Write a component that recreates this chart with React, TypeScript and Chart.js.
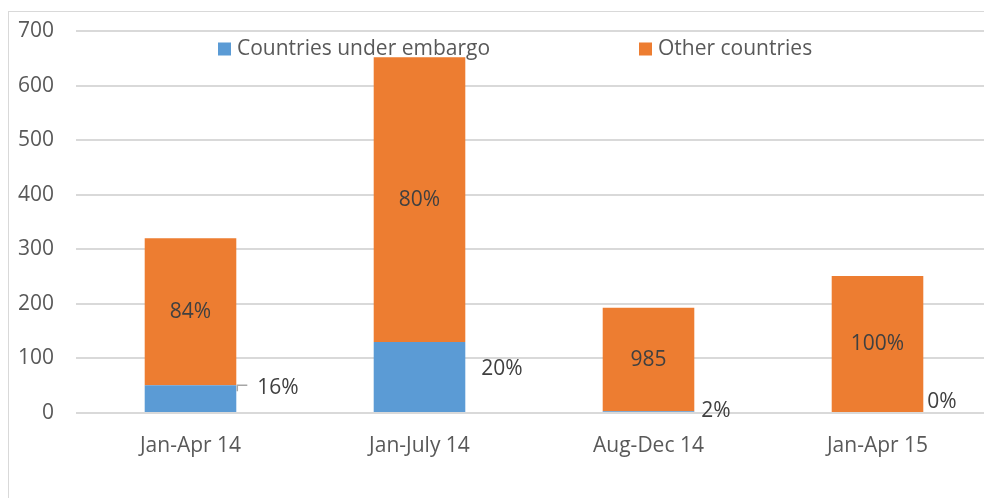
import React, { useEffect, useRef } from "react";
import { Chart, registerables } from "chart.js";

Chart.register(...registerables);

const categories = ["Jan-Apr 14", "Jan-July 14", "Aug-Dec 14", "Jan-Apr 15"];
const embargoValues = [51, 130, 3, 0];
const otherValues = [269, 522, 190, 251];
const embargoLabels = ["16%", "20%", "2%", "0%"];
const otherLabels = ["84%", "80%", "985", "100%"];
const seriesNames = ["Countries under embargo", "Other countries"];
const yTicks = [0, 100, 200, 300, 400, 500, 600, 700];

const BLUE = "#5b9bd5";
const ORANGE = "#ed7d31";
const FONT = "'Open Sans', sans-serif";
const FONT_SIZE = 21;

// label placement for the embargo series (offset from bar right edge in px, y as value)
const embargoLabelPlacement = [
  { dx: 21, yVal: 46 },
  { dx: 16, yVal: 81 },
  { dx: 7, yVal: 4 },
  { dx: 4, yVal: 20 },
];

const labelPlugin = {
  id: "customLabels",
  afterDatasetsDraw(chart: any) {
    const ctx = chart.ctx;
    const yScale = chart.scales.y;
    const area = chart.chartArea;
    ctx.save();
    ctx.font = `${FONT_SIZE}px ${FONT}`;
    ctx.fillStyle = "#404040";
    const metaO = chart.getDatasetMeta(1);
    metaO.data.forEach((el: any, i: number) => {
      const p = el.getProps(["x", "y", "base"], true);
      ctx.textAlign = "center";
      ctx.textBaseline = "middle";
      ctx.fillText(otherLabels[i], p.x, (p.y + p.base) / 2);
    });
    const metaE = chart.getDatasetMeta(0);
    metaE.data.forEach((el: any, i: number) => {
      const p = el.getProps(["x", "y", "base", "width"], true);
      const right = p.x + p.width / 2;
      const pl = embargoLabelPlacement[i];
      const ly = yScale.getPixelForValue(pl.yVal);
      ctx.textAlign = "left";
      ctx.textBaseline = "middle";
      ctx.fillStyle = "#404040";
      ctx.fillText(embargoLabels[i], right + pl.dx, ly);
      if (i === 0) {
        ctx.strokeStyle = "#a6a6a6";
        ctx.lineWidth = 1.5;
        ctx.beginPath();
        ctx.moveTo(right + 11, p.y);
        ctx.lineTo(right + 1, p.y);
        ctx.lineTo(right + 1, p.y + 6);
        ctx.stroke();
      }
    });
    const ly = area.top + 18;
    const items = [
      { x: area.left + 142, color: BLUE, text: seriesNames[0] },
      { x: area.left + 563, color: ORANGE, text: seriesNames[1] },
    ];
    ctx.textAlign = "left";
    ctx.textBaseline = "middle";
    items.forEach((it) => {
      ctx.fillStyle = it.color;
      ctx.fillRect(it.x, ly - 6.5, 13, 13);
      ctx.fillStyle = "#595959";
      ctx.fillText(it.text, it.x + 19, ly);
    });
    ctx.restore();
  },
};

export default function App() {
  const ref = useRef<HTMLCanvasElement | null>(null);
  useEffect(() => {
    if (!ref.current) return;
    const chart = new Chart(ref.current, {
      type: "bar",
      data: {
        labels: categories,
        datasets: [
          {
            label: seriesNames[0],
            data: embargoValues,
            backgroundColor: BLUE,
            barPercentage: 0.4,
            categoryPercentage: 1,
          },
          {
            label: seriesNames[1],
            data: otherValues,
            backgroundColor: ORANGE,
            barPercentage: 0.4,
            categoryPercentage: 1,
          },
        ],
      },
      options: {
        responsive: false,
        animation: false,
        devicePixelRatio: 1,
        layout: { padding: { top: 19, right: 7, left: 0, bottom: 0 } },
        plugins: { legend: { display: false }, tooltip: { enabled: false } },
        scales: {
          x: {
            stacked: true,
            grid: { display: false, drawTicks: false },
            border: { display: false },
            ticks: {
              padding: 20,
              color: "#595959",
              font: { family: FONT, size: FONT_SIZE },
              maxRotation: 0,
            },
            afterFit: (s: any) => {
              s.height = 85;
              s.paddingLeft = 0;
              s.paddingRight = 0;
            },
          },
          y: {
            stacked: true,
            min: 0,
            max: 700,
            afterBuildTicks: (s: any) => {
              s.ticks = yTicks.map((v) => ({ value: v }));
            },
            grid: { color: "#d9d9d9", lineWidth: 2, drawTicks: false },
            border: { display: false },
            ticks: {
              padding: 22,
              color: "#595959",
              font: { family: FONT, size: FONT_SIZE },
            },
            afterFit: (s: any) => {
              s.width = 67;
              s.paddingTop = 0;
              s.paddingBottom = 0;
            },
          },
        },
      },
      plugins: [labelPlugin],
    });
    return () => chart.destroy();
  }, []);
  return (
    <div style={{ position: "fixed", left: 0, top: 0, width: 984, height: 498, overflow: "hidden", background: "#fff" }}>
      <div
        style={{
          position: "absolute",
          left: 8,
          top: 11,
          width: 1050,
          height: 600,
          borderLeft: "1px solid #d9d9d9",
          borderTop: "1px solid #d9d9d9",
        }}
      />
      <canvas
        ref={ref}
        width={990}
        height={486}
        style={{ display: "block", position: "absolute", left: 9, top: 12 }}
      />
    </div>
  );
}
